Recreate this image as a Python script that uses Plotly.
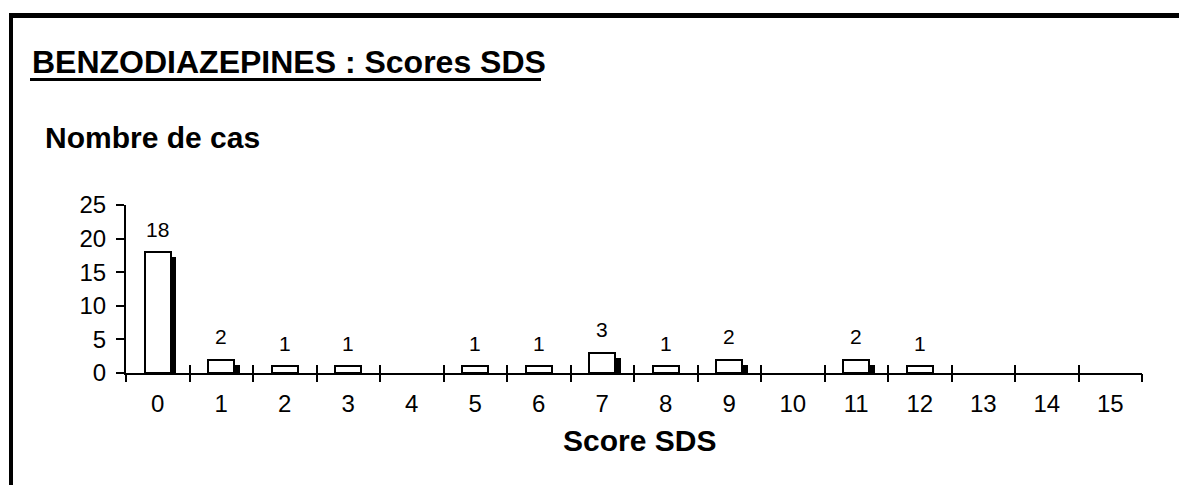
import plotly.graph_objects as go

# ---- data ----
scores = list(range(16))
cases = [18, 2, 1, 1, 0, 1, 1, 3, 1, 2, 0, 2, 1, 0, 0, 0]
shadow = [17.2, 1.2, 0, 0, 0, 0, 0, 2.2, 0, 1.2, 0, 1.2, 0, 0, 0, 0]
y_ticks = [0, 5, 10, 15, 20, 25]
title_text = "BENZODIAZEPINES : Scores SDS"
ylabel_text = "Nombre de cas"
xlabel_text = "Score SDS"

FONT = "Liberation Sans, Arial, sans-serif"
W, H = 1179, 485
ML, MR, MT, MB = 126, 37, 205, 112
PW = W - ML - MR
PH = H - MT - MB


def px(x):
    return (x - ML) / PW


def py(y):
    return (H - MB - y) / PH


fig = go.Figure()

# depth/shadow bars (drawn first, behind)
fig.add_trace(go.Bar(
    x=scores, y=[v if v > 0 else None for v in shadow], width=0.09, offset=0.205,
    marker=dict(color="black", line=dict(width=0)),
    hoverinfo="skip", showlegend=False,
))
# main bars
fig.add_trace(go.Bar(
    x=scores, y=[c if c > 0 else None for c in cases], width=0.41, offset=-0.205,
    marker=dict(color="white", line=dict(color="black", width=2)),
    showlegend=False,
))
# dummy traces to register overlay axes
fig.add_trace(go.Scatter(x=[0], y=[None], xaxis="x2", yaxis="y", showlegend=False, hoverinfo="skip"))
fig.add_trace(go.Scatter(x=[0], y=[None], xaxis="x3", yaxis="y", showlegend=False, hoverinfo="skip"))

annotations = []
for s, c in zip(scores, cases):
    if c > 0:
        annotations.append(dict(
            x=s, y=c, xref="x", yref="y", text=str(c), showarrow=False,
            yanchor="middle", yshift=23, font=dict(family=FONT, size=21, color="black"),
        ))

annotations.append(dict(
    x=px(30), y=py(61.5), xref="paper", yref="paper", text="<b>" + title_text + "</b>",
    showarrow=False, xanchor="left", yanchor="middle",
    font=dict(family=FONT, size=32, color="black"),
))
annotations.append(dict(
    x=px(43), y=py(137), xref="paper", yref="paper", text="<b>" + ylabel_text + "</b>",
    showarrow=False, xanchor="left", yanchor="middle",
    font=dict(family=FONT, size=30, color="black"),
))
annotations.append(dict(
    x=px(639), y=py(440), xref="paper", yref="paper", text="<b>" + xlabel_text + "</b>",
    showarrow=False, xanchor="center", yanchor="middle",
    font=dict(family=FONT, size=30, color="black"),
))

shapes = [
    # frame: left and top
    dict(type="line", xref="paper", yref="paper", x0=px(11), x1=px(11), y0=py(13), y1=py(500),
         line=dict(color="black", width=4)),
    dict(type="line", xref="paper", yref="paper", x0=px(9), x1=px(1200), y0=py(15.5), y1=py(15.5),
         line=dict(color="black", width=5)),
    # title underline
    dict(type="line", xref="paper", yref="paper", x0=px(30), x1=px(541), y0=py(79.5), y1=py(79.5),
         line=dict(color="black", width=3)),
]

bounds = [i - 0.5 for i in range(17)]
xr = [-0.5, 15.5]

fig.update_layout(
    width=W, height=H,
    margin=dict(l=ML, r=MR, t=MT, b=MB, pad=0),
    paper_bgcolor="white", plot_bgcolor="white",
    barmode="overlay", bargap=0,
    font=dict(family=FONT, color="black"),
    xaxis=dict(
        range=xr, tickmode="array", tickvals=scores, ticktext=[str(s) for s in scores],
        ticks="", showgrid=False, zeroline=False,
        showline=True, linecolor="black", linewidth=2,
        tickfont=dict(family=FONT, size=24, color="black"),
        ticklabelstandoff=8,
    ),
    xaxis2=dict(
        range=xr, overlaying="x", anchor="y", side="bottom",
        tickmode="array", tickvals=bounds, ticks="outside", ticklen=8, tickwidth=2,
        tickcolor="black", showticklabels=False, showgrid=False, zeroline=False, showline=False,
    ),
    xaxis3=dict(
        range=xr, overlaying="x", anchor="y", side="bottom",
        tickmode="array", tickvals=bounds, ticks="inside", ticklen=8, tickwidth=2,
        tickcolor="black", showticklabels=False, showgrid=False, zeroline=False, showline=False,
    ),
    yaxis=dict(
        range=[0, 25], tickmode="array", tickvals=y_ticks,
        ticks="outside", ticklen=8, tickwidth=2, tickcolor="black",
        showgrid=False, zeroline=False, showline=True, linecolor="black", linewidth=2,
        tickfont=dict(family=FONT, size=24, color="black"),
        ticklabelstandoff=5,
    ),
    annotations=annotations,
    shapes=shapes,
)

fig.write_html("out.html")
